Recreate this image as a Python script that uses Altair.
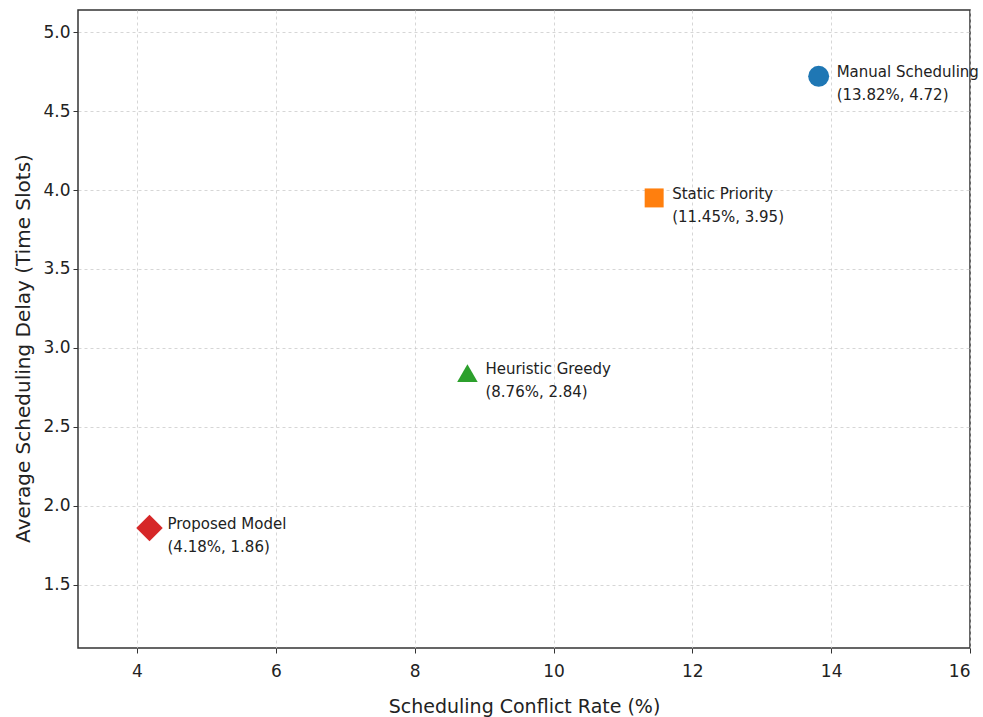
import altair as alt
import pandas as pd

# Scheduling methods compared on conflict rate vs. average delay
methods = ["Manual Scheduling", "Static Priority", "Heuristic Greedy", "Proposed Model"]
conflict_rate = [13.82, 11.45, 8.76, 4.18]
avg_delay = [4.72, 3.95, 2.84, 1.86]
colors = ["#1f77b4", "#ff7f0e", "#2ca02c", "#d62728"]
shapes = ["circle", "square", "triangle-up", "diamond"]
sizes = [440, 360, 420, 700]

x_ticks = [4, 6, 8, 10, 12, 14, 16]
y_ticks = [1.5, 2.0, 2.5, 3.0, 3.5, 4.0, 4.5, 5.0]

df = pd.DataFrame({
    "method": methods,
    "rate": conflict_rate,
    "delay": avg_delay,
    "size": sizes,
})
df["label"] = [f"{m}\n({r:.2f}%, {d:.2f})" for m, r, d in zip(methods, conflict_rate, avg_delay)]

FONT = "DejaVu Sans"

x_enc = alt.X(
    "rate:Q",
    scale=alt.Scale(domain=[3.15, 16], nice=False, zero=False),
    axis=alt.Axis(
        values=x_ticks, format="d", title="Scheduling Conflict Rate (%)",
        labelFontSize=17, titleFontSize=19, labelPadding=10, titlePadding=18,
        tickSize=5, labelColor="#222", titleColor="#222", titleFontWeight="normal",
        domain=False, tickColor="#333",
        grid=True, gridDash=[3, 3], gridColor="#cccccc", gridWidth=0.8,
    ),
)
y_enc = alt.Y(
    "delay:Q",
    scale=alt.Scale(domain=[1.1, 5.14], nice=False, zero=False),
    axis=alt.Axis(
        values=y_ticks, format=".1f", title="Average Scheduling Delay (Time Slots)",
        labelFontSize=17, titleFontSize=20, labelPadding=3, titlePadding=9,
        titleY=338,
        tickSize=5, labelColor="#222", titleColor="#222", titleFontWeight="normal",
        domain=False, tickColor="#333",
        grid=True, gridDash=[3, 3], gridColor="#cccccc", gridWidth=0.8,
    ),
)

base = alt.Chart(df)

points = base.mark_point(filled=True, opacity=1).encode(
    x=x_enc,
    y=y_enc,
    color=alt.Color("method:N", scale=alt.Scale(domain=methods, range=colors), legend=None),
    shape=alt.Shape("method:N", scale=alt.Scale(domain=methods, range=shapes), legend=None),
    size=alt.Size("size:Q", scale=None),
)

labels = base.mark_text(
    align="left", baseline="middle", dx=18, dy=-4,
    fontSize=15, font=FONT, lineBreak="\n", lineHeight=23, color="#222",
).encode(
    x="rate:Q",
    y="delay:Q",
    text="label:N",
)

chart = (
    alt.layer(points, labels)
    .properties(
        width=892, height=638,
        padding={"left": 78, "top": 10, "right": 13, "bottom": 69},
        autosize=alt.AutoSizeParams(type="none"),
        background="white",
    )
    .configure(font=FONT)
    .configure_view(stroke="#333333", strokeWidth=1.5)
)

chart.save("out.html", embed_options={"renderer": "svg", "actions": False})
